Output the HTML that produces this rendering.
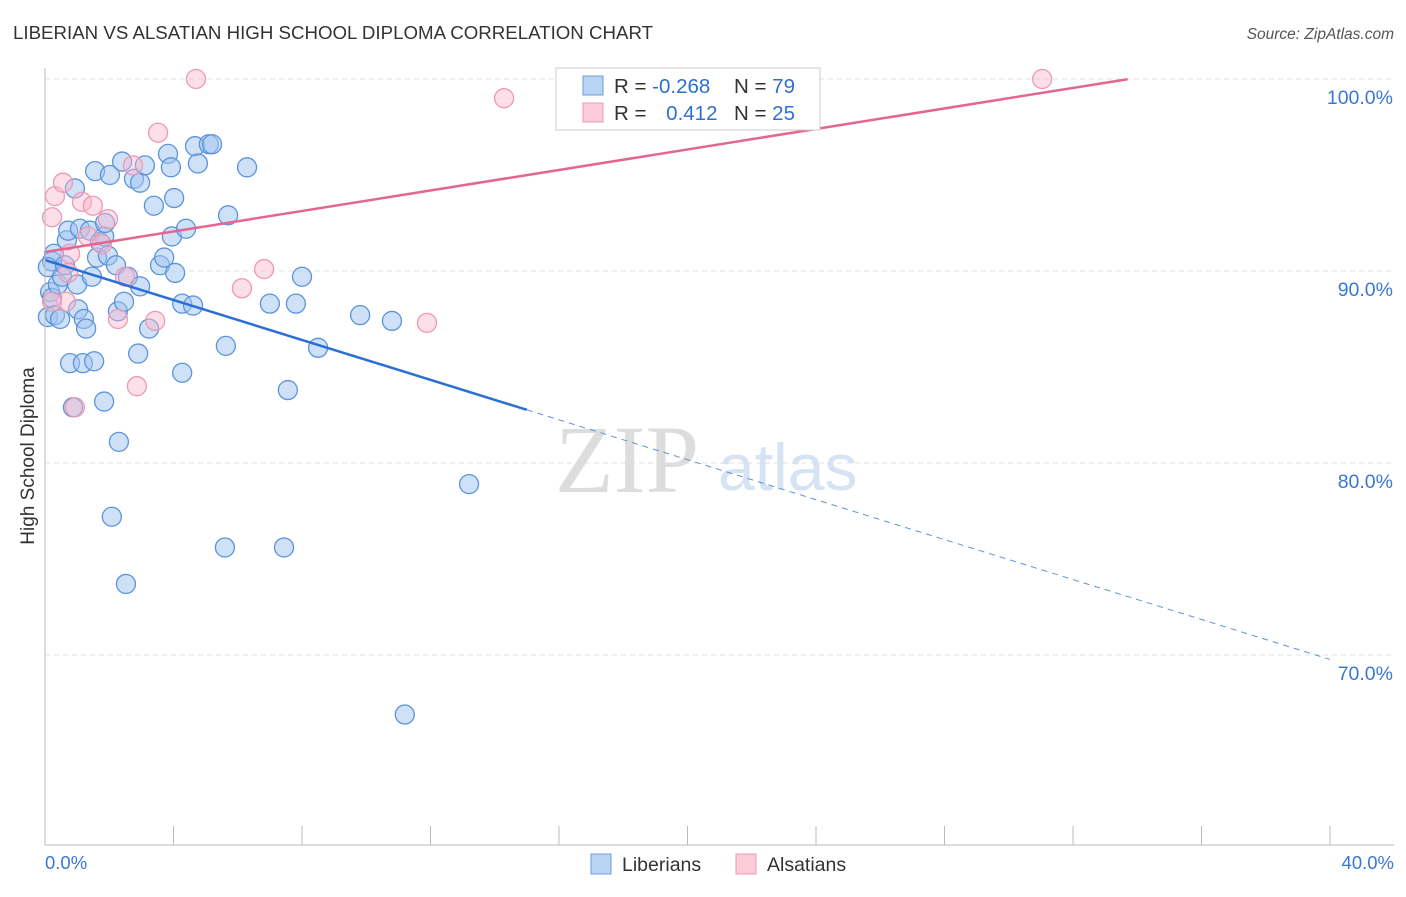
<!DOCTYPE html>
<html><head><meta charset="utf-8"><style>
body{margin:0;background:#fff;font-family:"Liberation Sans",sans-serif;}
</style></head><body>
<svg width="1406" height="892" xmlns="http://www.w3.org/2000/svg">
<text x="13" y="39" font-size="18.7" fill="#333">LIBERIAN VS ALSATIAN HIGH SCHOOL DIPLOMA CORRELATION CHART</text>
<text x="1394" y="39" font-size="15.5" fill="#555" text-anchor="end" font-style="italic">Source: ZipAtlas.com</text>
<g id="grid"></g>
<text x="555" y="492" font-size="96" font-family="Liberation Serif,serif" fill="#ddd">ZIP</text>
<text x="718" y="490" font-size="66" fill="#d5e3f5">atlas</text>
<g id="pts"></g>
<g id="lines"></g>
<line x1="45" y1="68" x2="45" y2="845" stroke="#bbb"/>
<line x1="45" y1="845" x2="1394" y2="845" stroke="#bbb"/>
<text x="34" y="456" font-size="19" fill="#333" transform="rotate(-90 34 456)" text-anchor="middle">High School Diploma</text>
<text x="45" y="869" font-size="18.5" fill="#3a78d4">0.0%</text>
<text x="1394" y="869" font-size="18.5" fill="#3a78d4" text-anchor="end">40.0%</text>
<g>
<rect x="556" y="68" width="264" height="62" fill="#fff" stroke="#ccc"/>
<rect x="583" y="76" width="20" height="19" fill="#b9d3f3" stroke="#6a9ddf"/>
<rect x="583" y="103" width="20" height="19" fill="#fbcbd9" stroke="#ec9ab4"/>
<text x="614" y="93" font-size="20.5" fill="#333">R = <tspan fill="#2f6fd0">-0.268</tspan></text>
<text x="734" y="93" font-size="20.5" fill="#333">N = <tspan fill="#2f6fd0">79</tspan></text>
<text x="614" y="120" font-size="20.5" fill="#333">R = <tspan fill="#2f6fd0" dx="14">0.412</tspan></text>
<text x="734" y="120" font-size="20.5" fill="#333">N = <tspan fill="#2f6fd0">25</tspan></text>
</g>
<g>
<rect x="591" y="854" width="20" height="20" fill="#b9d3f3" stroke="#6a9ddf"/>
<text x="622" y="871" font-size="19.5" fill="#333">Liberians</text>
<rect x="736" y="854" width="20" height="20" fill="#fbcbd9" stroke="#ec9ab4"/>
<text x="767" y="871" font-size="19.5" fill="#333">Alsatians</text>
</g>
</svg>
<script>
const blueX=[0.22,0.28,0.09,0.16,0.22,0.09,0.31,0.47,0.40,0.53,0.62,0.68,0.72,0.93,1.00,0.78,0.87,1.09,1.03,1.21,1.18,1.28,1.40,1.46,1.53,1.56,1.62,1.71,1.84,1.84,1.87,1.96,2.02,2.08,2.21,2.27,2.30,2.40,2.46,2.52,2.58,2.77,2.90,2.96,2.96,3.11,3.24,3.39,3.58,3.71,3.83,3.92,3.95,4.02,4.05,4.27,4.27,4.39,4.61,4.67,4.76,5.10,5.20,5.63,5.60,5.70,6.29,7.00,7.44,7.56,7.81,8.00,8.50,9.81,10.80,11.20,13.20];
const blueY=[90.5,90.9,90.2,88.9,88.6,87.6,87.7,87.5,89.3,89.7,90.3,91.6,92.1,94.3,89.3,85.2,82.9,92.2,88.0,87.5,85.2,87.0,92.1,89.7,85.3,95.2,90.7,91.5,91.8,83.2,92.5,90.8,95.0,77.2,90.3,87.9,81.1,95.7,88.4,73.7,89.7,94.8,85.7,94.6,89.2,95.5,87.0,93.4,90.3,90.7,96.1,95.4,91.8,93.8,89.9,84.7,88.3,92.2,88.2,96.5,95.6,96.6,96.6,86.1,75.6,92.9,95.4,88.3,75.6,83.8,88.3,89.7,86.0,87.7,87.4,66.9,78.9];
const pinkX=[0.22,0.31,0.56,0.65,0.78,0.72,0.93,1.15,1.34,1.49,1.77,1.96,2.27,2.49,2.74,2.86,3.43,3.52,4.70,6.13,6.82,11.89,14.29,31.04,0.22];
const pinkY=[92.8,93.9,94.6,88.4,90.9,89.9,82.9,93.6,91.8,93.4,91.4,92.7,87.5,89.7,95.5,84.0,87.4,97.2,100.0,89.1,90.1,87.3,99.0,100.0,88.4];
const blueFit=[90.57,-0.52,0,15.0,40.0];
const pinkFit=[90.99,0.267,0,33.7];
const xs=v=>45+v/40*1285, ys=v=>79+(100-v)*19.2;
const NS='http://www.w3.org/2000/svg';
const grid=document.getElementById('grid');
const yTicks=[100,90,80,70];
yTicks.forEach(t=>{
 const l=document.createElementNS(NS,'line');
 l.setAttribute('x1',45);l.setAttribute('x2',1394);l.setAttribute('y1',ys(t));l.setAttribute('y2',ys(t));
 l.setAttribute('stroke','#e2e2e2');l.setAttribute('stroke-dasharray','5,4');
 
 
 grid.appendChild(l);
 const tx=document.createElementNS(NS,'text');
 tx.setAttribute('x',1393);tx.setAttribute('y',ys(t)+25);tx.setAttribute('text-anchor','end');
 tx.setAttribute('font-size','19.5');tx.setAttribute('fill','#3a78d4');tx.textContent=t.toFixed(1)+'%';
 
 
 grid.appendChild(tx);
});
for(let i=0;i<=10;i++){
 const l=document.createElementNS(NS,'line');
 const x=xs(i*4);
 l.setAttribute('x1',x);l.setAttribute('x2',x);l.setAttribute('y1',826);l.setAttribute('y2',845);l.setAttribute('stroke','#bbb');
 
 
 grid.appendChild(l);
}
const pts=document.getElementById('pts');
function dot(x,y,f,s,n){
 const c=document.createElementNS(NS,'circle');
 c.setAttribute('cx',xs(x));c.setAttribute('cy',ys(y));c.setAttribute('r',9.5);
 c.setAttribute('fill',f);c.setAttribute('stroke',s);c.setAttribute('stroke-width','1.3');
 
 
 pts.appendChild(c);
}
blueX.forEach((x,i)=>dot(x,blueY[i],'rgba(160,195,240,0.5)','#5d93dc','liberian-point'));
pinkX.forEach((x,i)=>dot(x,pinkY[i],'rgba(248,185,205,0.45)','#ec9ab4','alsatian-point'));
const lines=document.getElementById('lines');
function ln(a,b,f,col,w,dash,n){
 const l=document.createElementNS(NS,'line');
 l.setAttribute('x1',xs(a));l.setAttribute('y1',ys(f[0]+f[1]*a));
 l.setAttribute('x2',xs(b));l.setAttribute('y2',ys(f[0]+f[1]*b));
 l.setAttribute('stroke',col);l.setAttribute('stroke-width',w);
 if(dash)l.setAttribute('stroke-dasharray',dash);
 
 
 lines.appendChild(l);
}
ln(blueFit[2],blueFit[3],blueFit,'#2a6fd6',2.5,null,'liberian-trend-line');
ln(blueFit[3],blueFit[4],blueFit,'#5d93dc',1,'6,5','liberian-trend-extension');
ln(pinkFit[2],pinkFit[3],pinkFit,'#e4668f',2.5,null,'alsatian-trend-line');
</script>
</body></html>
